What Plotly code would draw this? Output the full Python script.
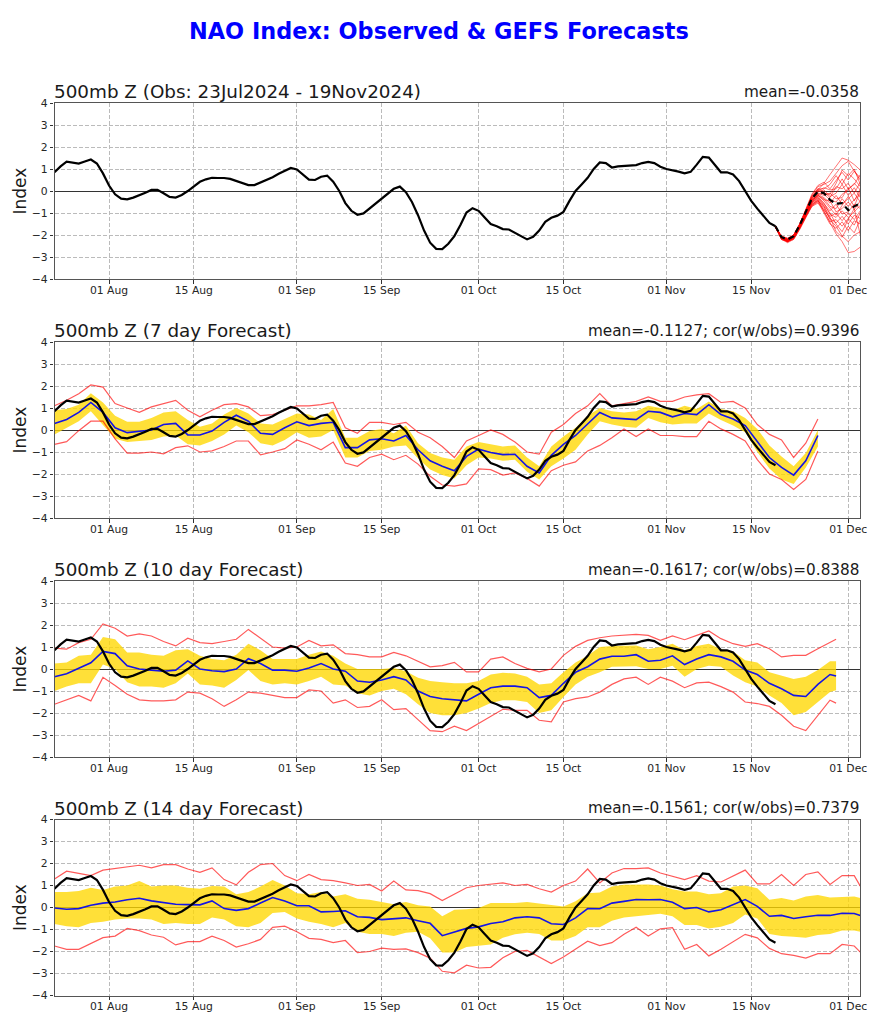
import datetime as dt
import plotly.graph_objects as go

START = dt.date(2024, 7, 23)
def dates(days):
    return [START + dt.timedelta(days=int(d)) for d in days]

title = "NAO Index: Observed & GEFS Forecasts"
panel_titles = ["500mb Z (Obs: 23Jul2024 - 19Nov2024)", "500mb Z (7 day Forecast)",
                "500mb Z (10 day Forecast)", "500mb Z (14 day Forecast)"]
panel_stats = ["mean=-0.0358", "mean=-0.1127; cor(w/obs)=0.9396",
               "mean=-0.1617; cor(w/obs)=0.8388", "mean=-0.1561; cor(w/obs)=0.7379"]
tick_dates = ["2024-08-01", "2024-08-15", "2024-09-01", "2024-09-15", "2024-10-01",
              "2024-10-15", "2024-11-01", "2024-11-15", "2024-12-01"]
y_ticks = [-4, -3, -2, -1, 0, 1, 2, 3, 4]

obs = [.85,1.12,1.33,1.29,1.25,1.34,1.43,1.25,.8,.25,-.15,-.35,-.38,-.3,-.2,-.08,.05,.05,-.1,-.27,
       -.3,-.18,0,.2,.42,.53,.6,.59,.59,.55,.45,.35,.27,.27,.38,.5,.63,.78,.93,1.05,
       .98,.75,.52,.5,.65,.7,.42,0,-.55,-.9,-1.08,-1.02,-.8,-.55,-.35,-.15,.1,.2,-.05,-.5,
       -1.1,-1.8,-2.35,-2.63,-2.64,-2.4,-2.05,-1.55,-.98,-.78,-.9,-1.2,-1.5,-1.6,-1.73,-1.75,-1.9,-2.05,-2.2,-2.08,
       -1.8,-1.4,-1.22,-1.12,-.95,-.45,0,.3,.6,1.0,1.3,1.27,1.07,1.12,1.14,1.18,1.18,1.27,1.32,1.27,
       1.1,1.0,.95,.88,.8,.87,1.2,1.55,1.52,1.2,.85,.85,.75,.45,0,-.45,-.8,-1.15,-1.45,-1.6]

member_days = list(range(119, 134))
ens_mean = [-1.6,-2.1,-2.2,-2.05,-1.55,-.95,-.35,-.03,-.1,-.4,-.58,-.55,-.87,-.7,-.55]
members = [
 [-1.65,-2.05,-2.15,-2.0,-1.5,-.9,-.25,.05,.35,.75,1.1,1.5,1.4,1.2,.95],
 [-1.65,-2.1,-2.2,-2.05,-1.55,-.9,-.2,.2,.3,.45,.8,1.15,1.35,.9,.6],
 [-1.6,-2.1,-2.2,-2.0,-1.5,-.85,-.15,.25,.4,.1,.45,.85,.5,.9,.5],
 [-1.6,-2.05,-2.15,-2.0,-1.5,-.9,-.3,.1,.1,.3,.7,.3,.8,.55,.2],
 [-1.65,-2.1,-2.25,-2.1,-1.6,-.95,-.35,.0,.15,.05,.1,.55,.1,.3,.75],
 [-1.6,-2.15,-2.2,-2.05,-1.5,-.85,-.25,.1,-.05,-.3,.2,.1,.35,-.1,.4],
 [-1.65,-2.1,-2.2,-2.0,-1.55,-.95,-.35,-.05,.05,-.25,-.1,.3,-.2,.15,-.3],
 [-1.6,-2.1,-2.25,-2.1,-1.6,-1.0,-.4,-.1,-.2,-.1,-.35,-.3,.15,-.45,.1],
 [-1.65,-2.15,-2.25,-2.05,-1.55,-.95,-.4,-.15,-.3,-.55,-.2,-.6,-.35,-.1,-.5],
 [-1.6,-2.1,-2.2,-2.1,-1.6,-1.0,-.45,-.2,-.35,-.7,-.8,-.35,-.7,-.4,-.15],
 [-1.65,-2.1,-2.3,-2.15,-1.65,-1.05,-.5,-.2,-.4,-.45,-.95,-.8,-.5,-.85,-.45],
 [-1.6,-2.2,-2.25,-2.1,-1.6,-1.0,-.4,-.25,-.6,-.9,-.6,-1.05,-.95,-.6,-.8],
 [-1.65,-2.15,-2.3,-2.1,-1.65,-1.05,-.5,-.3,-.55,-1.05,-1.2,-.9,-1.2,-.95,-.65],
 [-1.6,-2.1,-2.2,-2.05,-1.6,-1.05,-.55,-.35,-.7,-1.15,-1.0,-1.35,-1.0,-1.3,-.9],
 [-1.65,-2.2,-2.3,-2.15,-1.7,-1.1,-.6,-.4,-.8,-1.25,-1.45,-1.15,-1.5,-1.1,-1.25],
 [-1.6,-2.15,-2.25,-2.1,-1.65,-1.1,-.6,-.45,-.95,-1.4,-1.3,-1.6,-1.25,-1.55,-1.0],
 [-1.65,-2.15,-2.3,-2.2,-1.7,-1.15,-.65,-.5,-1.0,-1.5,-1.7,-1.4,-1.8,-1.35,-1.5],
 [-1.6,-2.2,-2.3,-2.15,-1.7,-1.15,-.7,-.55,-.85,-1.2,-1.85,-2.1,-1.6,-1.9,-1.3],
 [-1.65,-2.2,-2.35,-2.2,-1.75,-1.2,-.7,-.45,-.7,-1.3,-1.6,-2.05,-2.3,-2.0,-1.85],
 [-1.6,-2.15,-2.3,-2.15,-1.7,-1.15,-.65,-.4,-.9,-1.45,-1.95,-2.3,-2.8,-2.75,-2.55],
 [-1.65,-2.1,-2.25,-2.05,-1.6,-1.0,-.45,-.15,-.1,-.15,.35,.95,.7,1.0,.3],
 [-1.6,-2.1,-2.2,-2.0,-1.55,-.95,-.35,.05,-.15,-.4,-.5,-.15,.05,.35,.05],
 [-1.65,-2.15,-2.25,-2.1,-1.6,-1.0,-.5,-.2,-.45,-.8,-1.1,-.65,-.25,-.7,.0],
 [-1.6,-2.15,-2.3,-2.15,-1.65,-1.1,-.55,-.3,-.65,-1.0,-1.5,-1.85,-1.3,-.8,-2.0],
]

days7 = list(range(0, 127, 2))
mean7 = [.3,.48,.8,1.25,.8,.1,-.12,-.05,0,.25,.3,-.22,-.23,-.05,.35,.67,.4,-.15,-.2,.1,.37,.2,.3,.35,-.8,-.8,-.45,-.4,-.5,-.25,-.9,-1.4,-1.65,
         -1.85,-1.2,-.87,-1.02,-1.12,-1.1,-1.65,-1.95,-1.15,-.65,-.25,.27,.8,.55,.52,.47,.85,.8,.6,.75,.7,1.15,.7,.5,.2,-.5,-1.25,-1.7,-2.05,-1.4,-.25]
band_hi7 = [.9,.95,1.15,1.67,1.25,.65,.38,.38,.55,.8,.85,.45,.15,.3,.7,1.0,.75,.3,.25,.5,.75,.7,.45,.95,-.35,-.35,-.05,.05,-.15,.2,-.6,-1.05,-1.25,
            -1.35,-.75,-.55,-.65,-.75,-.7,-1.25,-1.65,-.75,-.3,.1,.65,1.0,.85,.8,.85,1.1,1.0,.9,1.1,.95,1.3,.95,.85,.55,.05,-.7,-1.2,-1.65,-1.05,0]
band_lo7 = [-.2,.1,.4,.85,.2,-.4,-.55,-.5,-.45,-.3,-.25,-.65,-.7,-.5,-.2,.2,-.1,-.6,-.7,-.45,-.1,-.35,-.3,0,-1.25,-1.25,-.95,-.9,-.75,-.7,-1.3,-1.8,-2.05,
            -2.2,-1.6,-1.25,-1.3,-1.4,-1.35,-1.9,-2.25,-1.65,-1.3,-.9,-.2,.4,.25,.15,.1,.55,.35,.25,.3,.3,.75,.45,.2,-.1,-1.0,-1.75,-2.25,-2.45,-1.7,-.75]
red_hi7 = [1.1,1.35,1.65,2.05,1.95,1.2,1.0,.8,1.05,1.2,1.35,.9,.6,.9,1.15,1.2,1.05,.65,.7,.9,1.1,1.1,1.15,1.25,.1,-.15,.35,.35,.25,.35,-.1,-.35,-.75,
           -1.25,-.5,-.25,0,-.2,-.55,-1.0,-1.1,-.1,.25,.75,1.1,1.65,1.1,1.2,1.3,1.5,1.3,1.3,1.5,1.6,1.65,1.25,1.3,1.0,.25,-.2,-.45,-1.25,-.6,.5]
red_lo7 = [-.65,-.53,-.03,.4,.4,-.4,-1.05,-1.05,-1.0,-1.08,-.8,-.72,-1.0,-.95,-.75,-.5,-.5,-1.13,-1.0,-.85,-.45,-.65,-.9,-.55,-1.5,-1.65,-1.25,-1.1,-1.35,-1.15,-1.55,-2.1,-2.5,
           -2.55,-2.45,-1.77,-1.8,-2.05,-1.95,-2.2,-2.55,-1.85,-1.6,-1.45,-.95,-.7,-.35,.05,-.3,.05,-.25,-.25,-.3,-.3,.4,.05,-.2,-.5,-1.35,-2.0,-2.25,-2.7,-2.25,-.95]

days10 = list(range(0, 129, 2)) + [129]
mean10 = [-.35,-.22,.03,.28,.8,.7,.15,0,-.05,-.1,-.05,.37,0,-.08,-.12,0,.47,.25,-.05,-.05,-.1,.05,.25,0,-.1,-.55,-.6,-.5,-.35,-.5,-1.0,-1.25,-1.35,
          -1.4,-1.45,-1.15,-.85,-.78,-.78,-.85,-1.3,-1.2,-.65,-.15,.1,.45,.58,.58,.65,.35,.4,.6,.2,.45,.65,.55,.35,-.05,-.25,-.65,-.9,-1.2,-1.25,-.7,-.25,-.32]
band_hi10 = [.25,.3,.6,.65,1.45,1.35,.75,.75,.65,.6,.85,.9,.6,.45,.4,.65,1.15,.85,.45,.45,.45,.65,.8,.6,.25,0,0,0,.05,-.1,-.4,-.55,-.6,
             -.65,-.65,-.55,-.25,-.17,-.2,-.35,-.7,-.65,-.15,.3,.6,1.0,1.05,1.05,1.07,.9,1.0,1.15,.85,1.05,1.15,.9,.8,.4,.3,-.15,-.3,-.45,-.35,-.05,.35,.35]
band_lo10 = [-1.0,-.8,-.65,-.65,.2,0,-.6,-.8,-.8,-.85,-.65,-.2,-.7,-.75,-.85,-.5,-.05,-.55,-.7,-.65,-.7,-.55,-.35,-.7,-.75,-1.1,-1.2,-1.0,-.9,-1.15,-1.6,-2.0,-2.1,
             -2.1,-2.0,-1.8,-1.55,-1.42,-1.42,-1.5,-2.0,-1.87,-1.27,-.7,-.35,-.15,.1,.1,.12,0,0,.15,-.35,0,.15,.1,-.3,-.6,-.8,-1.2,-1.55,-2.1,-1.95,-1.5,-1.05,-.97]
red_hi10 = [.95,.9,1.2,1.35,2.05,1.85,1.5,1.6,1.5,1.25,1.05,1.4,1.2,1.15,1.25,1.35,1.8,1.4,1.0,.95,1.0,1.3,1.05,1.1,.7,.65,.55,.55,.75,.6,.35,.1,.15,
            .3,-.13,-.13,.45,.55,.25,.03,-.13,0,.62,1.03,1.3,1.42,1.5,1.55,1.57,1.53,1.3,1.5,1.33,1.53,1.73,1.38,1.15,1.03,1.15,.92,.55,.62,.62,.92,1.22,1.35]
red_lo10 = [-1.6,-1.4,-1.2,-1.45,-.38,-.75,-1.15,-1.4,-1.45,-1.45,-1.4,-1.05,-1.1,-1.35,-1.7,-1.4,-1.05,-1.1,-1.2,-1.3,-1.3,-.95,-1.0,-1.55,-1.4,-1.75,-1.7,-1.4,-1.85,-1.8,-2.3,-2.8,-2.85,
            -2.6,-2.8,-2.48,-2.18,-1.83,-1.88,-1.88,-2.33,-2.4,-1.5,-1.35,-1.27,-1.05,-.7,-.45,-.37,-.7,-.37,-.55,-.85,-.63,-.6,-.8,-1.05,-1.5,-1.57,-1.7,-2.1,-2.6,-2.8,-2.1,-1.42,-1.55]

days14 = list(range(0, 133, 2)) + [133]
mean14 = [-.02,-.08,-.05,.1,.2,.25,.35,.42,.3,.22,.15,.13,.12,.3,-.05,-.13,-.05,.2,.45,.3,.08,.08,-.2,-.18,-.15,-.42,-.45,-.55,-.52,-.47,-.6,-.72,-1.28,
          -1.1,-.95,-.88,-.73,-.65,-.47,-.42,-.47,-.74,-.77,-.47,-.05,-.06,.2,.28,.36,.35,.36,.24,-.05,0,-.2,-.1,.14,.36,.05,-.4,-.36,-.5,-.42,-.35,-.36,-.26,-.27,-.36]
band_hi14 = [.7,.7,.75,.9,.8,.95,1.0,1.2,.95,1.0,1.0,.9,.85,.98,.95,.6,.7,.95,1.25,1.0,.65,.6,.7,.5,.6,.4,.35,.25,.15,.25,.1,.05,-.4,
             -.1,-.08,-.02,.2,.2,.2,.25,.18,.1,.05,.28,.65,.68,.95,1.03,1.05,1.05,1.0,.83,.73,.73,.6,.65,.95,1.0,.87,.35,.43,.32,.5,.57,.45,.47,.5,.43]
band_lo14 = [-.75,-.85,-.9,-.7,-.65,-.55,-.5,-.5,-.55,-.75,-.7,-.75,-.75,-.45,-.55,-.85,-.9,-.7,-.25,-.2,-.5,-.65,-.75,-.9,-.7,-1.1,-1.2,-1.2,-1.3,-1.15,-1.1,-1.4,-2.05,
             -2.05,-1.8,-1.75,-1.68,-1.37,-1.22,-1.15,-1.2,-1.5,-1.5,-1.3,-.9,-.9,-.6,-.45,-.4,-.32,-.28,-.4,-.8,-.8,-.95,-.88,-.7,-.32,-.5,-1.2,-1.3,-1.33,-1.38,-1.25,-1.2,-1.05,-1.05,-1.1]
red_hi14 = [1.3,1.65,1.55,1.45,1.7,1.78,1.85,1.92,1.8,1.95,1.95,1.75,1.6,1.8,1.27,1.03,1.6,1.95,2.0,1.45,1.22,1.5,1.27,1.22,1.12,1.0,1.05,.75,1.2,.8,.77,.63,.32,
            .6,.9,1.0,1.05,1.12,1.0,1.05,.85,.7,1.0,1.2,1.75,1.12,1.57,1.77,1.77,1.8,1.57,1.42,1.27,1.45,1.2,1.16,1.42,1.7,1.07,1.07,1.5,1.0,1.5,1.62,1.05,1.45,1.45,.97]
red_lo14 = [-1.75,-1.9,-1.9,-1.65,-1.37,-1.3,-.95,-1.05,-1.25,-1.35,-1.7,-1.55,-1.55,-1.3,-1.5,-1.8,-1.65,-1.45,-.9,-.85,-1.1,-1.4,-1.45,-1.6,-1.5,-2.05,-2.0,-1.85,-1.9,-1.88,-2.05,-2.3,-2.9,
            -2.97,-2.62,-2.75,-2.72,-2.28,-2.0,-1.95,-2.25,-2.55,-2.25,-1.88,-1.53,-1.73,-1.6,-1.22,-.9,-1.3,-.97,-.92,-1.9,-1.68,-2.2,-1.9,-1.57,-1.22,-1.38,-1.86,-2.1,-2.18,-2.3,-2.1,-2.1,-1.68,-1.75,-2.03]

forecasts = [
    (days7, mean7, band_hi7, band_lo7, red_hi7, red_lo7),
    (days10, mean10, band_hi10, band_lo10, red_hi10, red_lo10),
    (days14, mean14, band_hi14, band_lo14, red_hi14, red_lo14),
]

W, H = 878, 1024
L, R = 54.5, 860.3
PANELS = [(103, 279), (342, 518), (581, 757), (819.5, 995.5)]
FONT = "DejaVu Sans"
GRAY = "#555555"
TXT = "#1a1a1a"

fig = go.Figure()
obs_days = list(range(len(obs)))

def line(days, vals, color, width, ax, dash=None):
    fig.add_trace(go.Scatter(x=dates(days), y=vals, mode="lines", xaxis=f"x{ax}", yaxis=f"y{ax}",
                             line=dict(color=color, width=width, dash=dash),
                             showlegend=False, hoverinfo="skip"))

line(obs_days, obs, "black", 2.2, 1)
for m in members:
    line(member_days, m, "rgba(255,0,0,0.55)", 1, 1)
line(member_days, ens_mean, "black", 2.2, 1, dash="6px,4px")

for i, (days, mean, hi, lo, rhi, rlo) in enumerate(forecasts):
    ax = i + 2
    fig.add_trace(go.Scatter(x=dates(days), y=lo, mode="lines", line=dict(width=0, color="rgba(0,0,0,0)"),
                             xaxis=f"x{ax}", yaxis=f"y{ax}", showlegend=False, hoverinfo="skip"))
    fig.add_trace(go.Scatter(x=dates(days), y=hi, mode="lines", line=dict(width=0, color="rgba(0,0,0,0)"),
                             fill="tonexty", fillcolor="rgba(255,215,0,0.78)",
                             xaxis=f"x{ax}", yaxis=f"y{ax}", showlegend=False, hoverinfo="skip"))
    line(days, rhi, "rgba(255,0,0,0.65)", 1.2, ax)
    line(days, rlo, "rgba(255,0,0,0.65)", 1.2, ax)
    line(days, mean, "#1414e6", 1.6, ax)
    line(obs_days, obs, "black", 2.2, ax)

layout = dict(
    width=W, height=H, margin=dict(l=0, r=0, t=0, b=0, autoexpand=False),
    paper_bgcolor="white", plot_bgcolor="white",
    font=dict(family=FONT, color=TXT),
    showlegend=False,
)
annotations = [dict(text=f"<b>{title}</b>", x=439 / W, y=1 - 30.5 / H, xref="paper", yref="paper", showarrow=False,
                    font=dict(size=22.4, color="#0000ff", family=FONT), xanchor="center", yanchor="middle")]
for i, (top, bot) in enumerate(PANELS):
    s = "" if i == 0 else str(i + 1)
    layout[f"xaxis{s}"] = dict(
        domain=[L / W, R / W], anchor=f"y{s}", range=["2024-07-23", "2024-12-03"], type="date",
        tickvals=tick_dates, tickformat="%d %b", ticks="outside", ticklen=3.5, tickwidth=1, tickcolor="#333333",
        tickfont=dict(size=10.8, family=FONT, color="#262626"), ticklabelstandoff=-3,
        showgrid=True, gridcolor="#bbbbbb", griddash="4px,2px", gridwidth=1, zeroline=False,
        showline=True, linecolor=GRAY, linewidth=1.4, mirror=True)
    layout[f"yaxis{s}"] = dict(
        domain=[1 - bot / H, 1 - top / H], anchor=f"x{s}", range=[-4, 4], tickvals=y_ticks,
        ticks="outside", ticklen=3.5, tickwidth=1, tickcolor="#333333",
        tickfont=dict(size=10.8, family=FONT, color="#262626"),
        showgrid=True, gridcolor="#bbbbbb", griddash="4px,2px", gridwidth=1,
        zeroline=True, zerolinecolor="#333333", zerolinewidth=1,
        showline=True, linecolor=GRAY, linewidth=1.4, mirror=True)
    annotations.append(dict(text=panel_titles[i], x=L / W, y=1 - (top - 2.5) / H, xref="paper", yref="paper",
                            showarrow=False, xanchor="left", yanchor="bottom", xshift=-3, yshift=-3.5,
                            font=dict(size=18.35, family=FONT, color=TXT)))
    annotations.append(dict(text=panel_stats[i], x=R / W, y=1 - (top - 2.5) / H, xref="paper", yref="paper",
                            showarrow=False, xanchor="right", yanchor="bottom", xshift=1, yshift=-2,
                            font=dict(size=15.25, family=FONT, color=TXT)))
    annotations.append(dict(text="Index", x=19.5 / W, y=1 - (top + bot) / 2 / H, xref="paper", yref="paper",
                            showarrow=False, textangle=-90, xanchor="center", yanchor="middle",
                            font=dict(size=17, family=FONT, color=TXT)))
layout["annotations"] = annotations
fig.update_layout(**layout)
fig.write_html("out.html", config=dict(displayModeBar=False),
               post_script="document.body.style.margin='0';document.documentElement.style.overflow='hidden';")
